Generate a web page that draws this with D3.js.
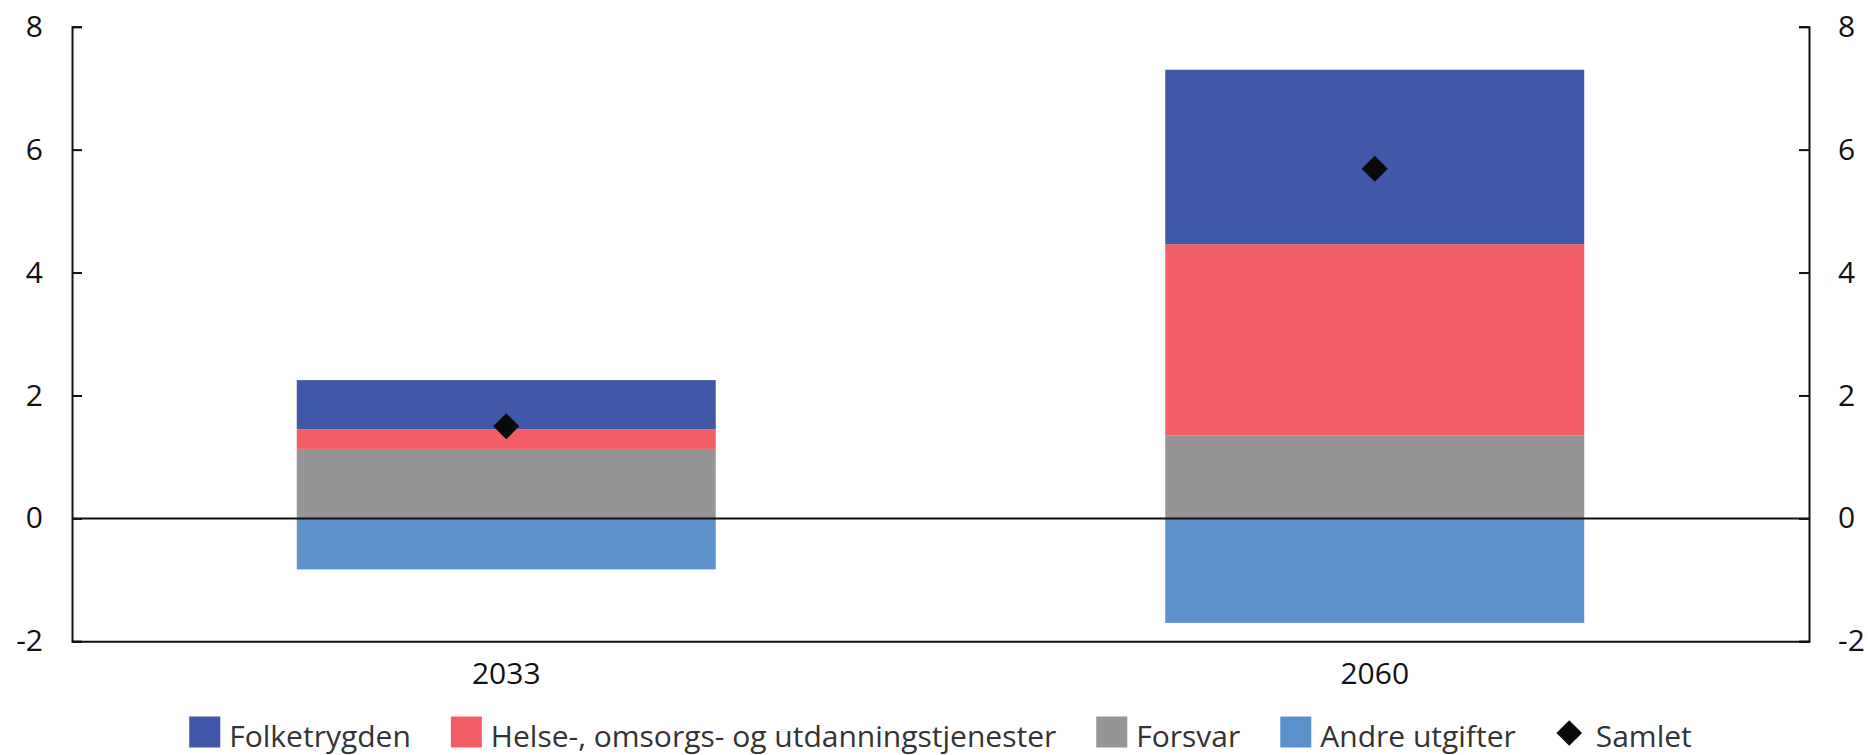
<!DOCTYPE html>
<html>
<head>
<meta charset="utf-8">
<script src="https://cdn.jsdelivr.net/npm/d3@7"></script>
<style>
  body { margin: 0; background: #fff; }
  svg text { font-family: "Open Sans", sans-serif; }
</style>
</head>
<body>
<svg id="chartSVG"></svg>
<script>
// data
let years = ['2033', '2060'];
let seriesNames = ['Forsvar', 'Helse-, omsorgs- og utdanningstjenester', 'Folketrygden', 'Andre utgifter'];
let forsvar = [1.13, 1.35];
let helse = [0.32, 3.11];
let folketrygden = [0.80, 2.84];
let andre = [-0.83, -1.70];
let samlet = [1.50, 5.69];
let yTicks = [-2, 0, 2, 4, 6, 8];

let colors = {
  'Folketrygden': '#4157a8',
  'Helse-, omsorgs- og utdanningstjenester': '#f25e63',
  'Forsvar': '#969497',
  'Andre utgifter': '#5c91cc'
};

let widthSVG = 1868;
let heightSVG = 755;

let SVG = d3.select('svg#chartSVG')
            .attr('width', widthSVG)
            .attr('height', heightSVG);

let plotLeft = 72, plotRight = 1809, plotTop = 26.7, plotBottom = 641.3;

let x = d3.scaleBand()
          .domain(years)
          .range([plotLeft, plotRight])
          .paddingInner(0.5176)
          .paddingOuter(0.2588);

let y = d3.scaleLinear().domain([-2, 8]).range([plotBottom, plotTop]);

// build stacked rows (positive stack from 0 upward, negative below)
let rows = years.map((yr, i) => ({
  year: yr,
  'Forsvar': forsvar[i],
  'Helse-, omsorgs- og utdanningstjenester': helse[i],
  'Folketrygden': folketrygden[i],
  'Andre utgifter': andre[i]
}));

let stacked = d3.stack()
                .keys(seriesNames)
                .offset(d3.stackOffsetDiverging)(rows);

let barLayer = SVG.append('g').attr('class', 'bars');

stacked.forEach(s => {
  barLayer.append('g')
          .style('fill', colors[s.key])
          .selectAll('rect')
          .data(s)
          .enter()
          .append('rect')
          .attr('x', d => x(d.data.year))
          .attr('width', x.bandwidth())
          .attr('y', d => y(Math.max(d[0], d[1])))
          .attr('height', d => Math.abs(y(d[0]) - y(d[1])));
});

// zero line
SVG.append('line')
   .attr('x1', plotLeft).attr('x2', plotRight)
   .attr('y1', y(0)).attr('y2', y(0))
   .style('stroke', '#111')
   .style('stroke-width', 2);

// axes
let axisLeft = d3.axisLeft(y).tickValues(yTicks).tickSize(-10).tickPadding(29).tickFormat(d => d);
let axisRight = d3.axisRight(y).tickValues(yTicks).tickSize(-10).tickPadding(29).tickFormat(d => d);

SVG.append('g')
   .attr('class', 'axis left')
   .attr('transform', `translate(${plotLeft}, 0)`)
   .call(axisLeft);

SVG.append('g')
   .attr('class', 'axis right')
   .attr('transform', `translate(${plotRight}, 0)`)
   .call(axisRight);

let axisBottom = d3.axisBottom(x).tickSize(0).tickPadding(14);
SVG.append('g')
   .attr('class', 'axis bottom')
   .attr('transform', `translate(0, ${plotBottom})`)
   .call(axisBottom);

d3.selectAll('.axis path.domain')
  .style('stroke', '#111')
  .style('stroke-width', 2);
d3.selectAll('.axis .tick line')
  .style('stroke', '#111')
  .style('stroke-width', 2);
d3.selectAll('.axis text')
  .style('font-size', '30px')
  .style('fill', '#111')
  .style('font-family', '"Open Sans", sans-serif');
d3.selectAll('.axis.bottom text').attr('dy', '0.95em');

// total markers
let diamond = d3.symbol().type(d3.symbolSquare).size(340);
SVG.append('g')
   .selectAll('path')
   .data(samlet)
   .enter()
   .append('path')
   .attr('d', diamond)
   .attr('transform', (d, i) => `translate(${x(years[i]) + x.bandwidth() / 2}, ${y(d)}) rotate(45)`)
   .style('fill', '#0a0a0a');

// legend
let legendItems = ['Folketrygden', 'Helse-, omsorgs- og utdanningstjenester', 'Forsvar', 'Andre utgifter', 'Samlet'];
let legend = SVG.append('g').attr('class', 'legend');
let legendY = 732;
let sw = 31, gapText = 9, gapItem = 40;
let cursor = 0;
legendItems.forEach(name => {
  let item = legend.append('g').attr('transform', `translate(${cursor}, 0)`);
  if (name === 'Samlet') {
    item.append('path')
        .attr('d', d3.symbol().type(d3.symbolSquare).size(330))
        .attr('transform', `translate(${sw / 2 - 2}, ${legendY + 1}) rotate(45)`)
        .style('fill', '#0a0a0a');
  } else {
    item.append('rect')
        .attr('x', 0).attr('y', legendY - sw / 2)
        .attr('width', sw).attr('height', sw)
        .style('fill', colors[name]);
  }
  let t = item.append('text')
              .attr('x', sw + gapText)
              .attr('y', legendY + 15)
              .text(name)
              .style('font-size', '30px')
              .style('fill', '#333');
  cursor += sw + gapText + t.node().getComputedTextLength() + gapItem;
});
let legendWidth = cursor - gapItem;
legend.attr('transform', `translate(${(plotLeft + plotRight) / 2 - legendWidth / 2}, 0)`);
</script>
</body>
</html>
